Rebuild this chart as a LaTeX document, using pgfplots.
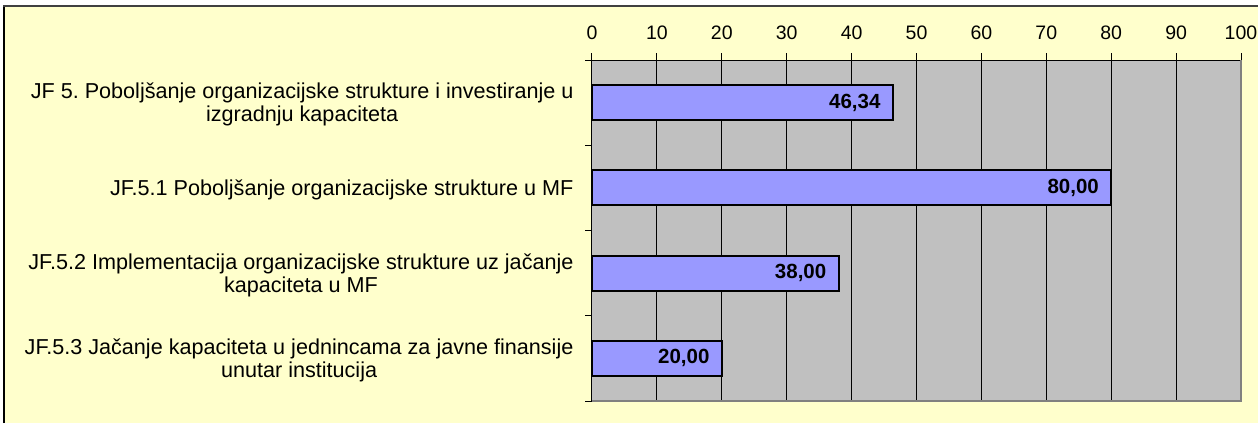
\documentclass[border=0pt]{standalone}
\usepackage{pgfplots}
\pgfplotsset{compat=1.18}
\usepackage{fontspec}
\setmainfont{Liberation Sans}
\frenchspacing
\definecolor{bgyellow}{HTML}{FFFFCC}
\definecolor{plotgray}{HTML}{C0C0C0}
\definecolor{barblue}{HTML}{9999FF}
\definecolor{framegray}{HTML}{808080}
\begin{document}
\begin{tikzpicture}[x=1pt,y=1pt]
\path[use as bounding box] (0,0) rectangle (1258,423);
\fill[bgyellow] (4,0) rectangle (1258,417);
\draw[black, line width=1.5pt] (4,0)--(4,417.5);
\draw[black!75, line width=1.5pt] (3.25,417)--(1258,417);
\begin{axis}[
  at={(592pt,22pt)}, anchor=south west,
  width=649pt, height=341pt, scale only axis,
  xmin=0, xmax=100, ymin=-0.5, ymax=3.5,
  y dir=reverse,
  axis background/.style={fill=plotgray},
  separate axis lines,
  axis x line*=top, axis y line*=left,
  axis line style={black, line width=1pt},
  x axis line style={-}, y axis line style={-},
  xtick={0,10,...,100},
  xtick pos=right,
  xticklabel pos=right,
  tick align=outside,
  major tick length=7pt,
  tick style={black, line width=1pt},
  xmajorgrids=true,
  grid style={black, line width=1pt},
  ytick={-0.5,0.5,1.5,2.5,3.5},
  yticklabels={},
  extra y ticks={0,1,2,3},
  extra y tick labels={{JF 5. Poboljšanje organizacijske strukture i investiranje u\\izgradnju kapaciteta},
    {JF.5.1 Poboljšanje organizacijske strukture u MF},
    {JF.5.2 Implementacija organizacijske strukture uz jačanje\\kapaciteta u MF},
    {JF.5.3 Jačanje kapaciteta u jednincama za javne finansije\\unutar institucija}},
  extra y tick style={major tick length=0pt, ymajorgrids=false,
     yticklabel style={align=center, font=\fontsize{21.6}{23.5}\selectfont, xshift=-15pt, yshift=-2pt}},
  xticklabel style={font=\fontsize{19.5}{22}\selectfont, yshift=10pt},
  /pgf/number format/assume math mode=true,
  xbar, bar width=35pt,
  point meta=x,
  nodes near coords={\pgfmathprintnumber[fixed,fixed zerofill,precision=2,use comma,assume math mode=true]{\pgfplotspointmeta}},
  nodes near coords style={anchor=east, font=\bfseries\fontsize{20.5}{23}\selectfont, xshift=-8pt, text=black},
  clip=false,
]
\addplot[fill=barblue, draw=black, line width=2pt] coordinates {(46.34,0) (80,1) (38,2) (20,3)};
\draw[framegray, line width=2pt] (rel axis cs:1,1) -- (rel axis cs:1,0) -- (rel axis cs:0,0);
\end{axis}
\end{tikzpicture}
\end{document}
